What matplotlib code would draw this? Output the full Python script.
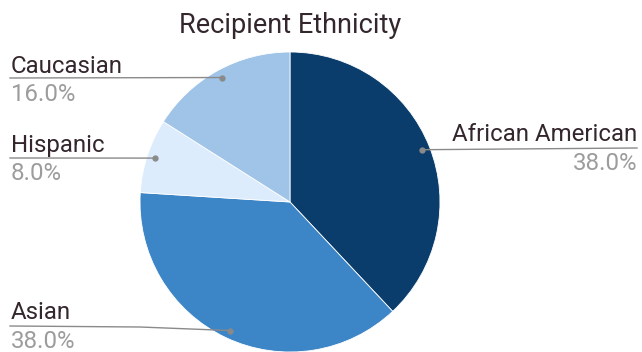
import numpy as np
import matplotlib
matplotlib.use("Agg")
import matplotlib.pyplot as plt

plt.rcParams['font.family'] = ['Roboto', 'DejaVu Sans']

categories = ["African American", "Asian", "Hispanic", "Caucasian"]
shares = [38.0, 38.0, 8.0, 16.0]
colors = ["#0a3d6b", "#3c85c7", "#dcecfc", "#9fc4e8"]
title = "Recipient Ethnicity"

W, H = 642, 352
fig = plt.figure(figsize=(W / 100, H / 100), dpi=100)
fig.patch.set_facecolor("white")

# pie axes: 300 px square, centred at (290, 202) px from top-left
cx, cy, r = 290, 202, 150
ax = fig.add_axes([(cx - r) / W, 1 - (cy + r) / H, 2 * r / W, 2 * r / H])

wedges, _ = ax.pie(shares, colors=colors, startangle=90, counterclock=False,
                   radius=1, center=(0, 0),
                   wedgeprops=dict(edgecolor="white", linewidth=0.6))
ax.set_xlim(-1, 1)
ax.set_ylim(-1, 1)
ax.axis("off")


def px(x, y):
    """pixel coords (from top-left) -> figure fraction"""
    return x / W, 1 - y / H


label_color = "#33262c"
pct_color = "#9c9c9c"
line_color = "#8a8a8a"
fs = 17.3

fig.text(*px(cx, 33), title, ha="center", va="baseline", fontsize=19.5,
         color=label_color)

# label layout: side, text x, label baseline, pct baseline, leader start
layout = {
    "African American": dict(ha="right", x=637, lab=141, pct=170,
                             path=[(637, 148)]),
    "Asian": dict(ha="left", x=11, lab=319, pct=348,
                  path=[(10, 326), (140, 327)]),
    "Hispanic": dict(ha="left", x=11, lab=152, pct=180, path=[(10, 158)]),
    "Caucasian": dict(ha="left", x=11, lab=73, pct=101, path=[(10, 78)]),
}

for w, name, val in zip(wedges, categories, shares):
    mid = np.deg2rad((w.theta1 + w.theta2) / 2)
    dot = ax.transData.transform((0.947 * np.cos(mid), 0.947 * np.sin(mid)))
    dot_fig = fig.transFigure.inverted().transform(dot)
    spec = layout[name]
    pts = [px(*p) for p in spec["path"]] + [tuple(dot_fig)]
    xs, ys = zip(*pts)
    fig.add_artist(plt.Line2D(xs, ys, transform=fig.transFigure,
                              color=line_color, linewidth=1.0))
    fig.add_artist(plt.Line2D([dot_fig[0]], [dot_fig[1]],
                              transform=fig.transFigure, marker="o",
                              markersize=3.5, color=line_color,
                              linestyle="none"))
    fig.text(*px(spec["x"], spec["lab"]), name, ha=spec["ha"],
             va="baseline", fontsize=fs, color=label_color)
    fig.text(*px(spec["x"], spec["pct"]), f"{val:.1f}%", ha=spec["ha"],
             va="baseline", fontsize=fs, color=pct_color)

fig.savefig("out.png", dpi=100, facecolor="white")
